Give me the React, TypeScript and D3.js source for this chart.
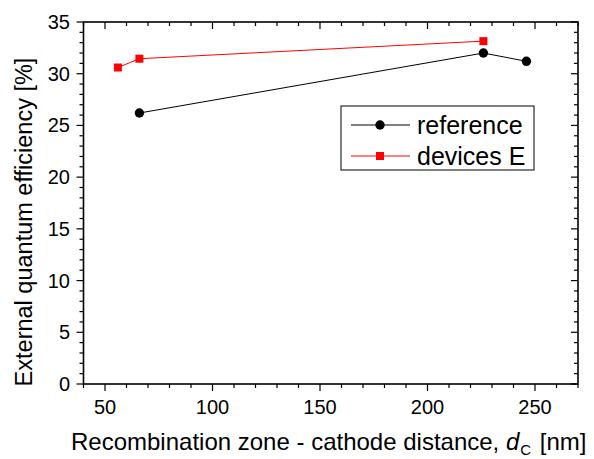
import React from "react";
import * as d3 from "d3";

const refX = [66, 226, 246];
const refY = [26.2, 32.0, 31.2];
const devX = [56, 66, 226];
const devY = [30.6, 31.45, 33.15];
const xTicks = [50, 100, 150, 200, 250];
const yTicks = [0, 5, 10, 15, 20, 25, 30, 35];
const legendLabels = ["reference", "devices E"];

const W = 594, H = 459;
const L = 83.5, R = 578, T = 22, B = 384;
const FONT = "Liberation Sans, Arial, sans-serif";

export default function App() {
  const x = d3.scaleLinear().domain([40, 270]).range([L, R]);
  const y = d3.scaleLinear().domain([0, 35]).range([B, T]);
  const line = d3.line<[number, number]>().x(d => x(d[0])).y(d => y(d[1]));
  const refPts = refX.map((v, i) => [v, refY[i]] as [number, number]);
  const devPts = devX.map((v, i) => [v, devY[i]] as [number, number]);
  const xMinor = d3.range(40, 271, 10);
  const yMinor = d3.range(0, 35.01, 1);

  return (
    <svg width={W} height={H} style={{ position: "absolute", left: 0, top: 0, background: "#fff" }} fontFamily={FONT}>
      {xMinor.map(v => {
        const major = v % 50 === 0;
        const len = major ? 7 : 4;
        return (
          <g key={"xt" + v} stroke="#000" strokeWidth={1.2}>
            <line x1={x(v)} x2={x(v)} y1={B} y2={B + len} />
            <line x1={x(v)} x2={x(v)} y1={T} y2={T + len} />
          </g>
        );
      })}
      {yMinor.map(v => {
        const major = v % 5 === 0;
        const len = major ? 7 : 4;
        return (
          <g key={"yt" + v} stroke="#000" strokeWidth={1.2}>
            <line x1={L} x2={L - len} y1={y(v)} y2={y(v)} />
            <line x1={R} x2={R - len} y1={y(v)} y2={y(v)} />
          </g>
        );
      })}
      <rect x={L} y={T} width={R - L} height={B - T} fill="none" stroke="#000" strokeWidth={1.6} />
      {xTicks.map(v => (
        <text key={"xl" + v} x={x(v)} y={414} fontSize={20} textAnchor="middle">{v}</text>
      ))}
      {yTicks.map(v => (
        <text key={"yl" + v} x={70} y={y(v) + 7} fontSize={20} textAnchor="end">{v}</text>
      ))}
      <path d={line(refPts) || ""} fill="none" stroke="#000" strokeWidth={1} />
      <path d={line(devPts) || ""} fill="none" stroke="#ff0000" strokeWidth={1} />
      {refPts.map((p, i) => (
        <circle key={"rc" + i} cx={x(p[0])} cy={y(p[1])} r={4.7} fill="#000" />
      ))}
      {devPts.map((p, i) => (
        <rect key={"dr" + i} x={x(p[0]) - 4} y={y(p[1]) - 4} width={8} height={8} fill="#ff0000" />
      ))}
      <rect x={341} y={106} width={193} height={64} fill="#fff" stroke="#000" strokeWidth={1} />
      <line x1={351} x2={410} y1={125} y2={125} stroke="#000" strokeWidth={1} />
      <circle cx={380} cy={125} r={4.7} fill="#000" />
      <text x={417} y={133.5} fontSize={25}>{legendLabels[0]}</text>
      <line x1={351} x2={410} y1={156} y2={156} stroke="#ff0000" strokeWidth={1} />
      <rect x={376} y={152} width={8} height={8} fill="#ff0000" />
      <text x={417} y={165} fontSize={25}>{legendLabels[1]}</text>
      <text x={71} y={450} fontSize={24}>
        Recombination zone - cathode distance, <tspan fontStyle="italic">d</tspan>
        <tspan fontSize={15} dy={5} dx={1}>C</tspan>
        <tspan dy={-5} dx={2}> [nm]</tspan>
      </text>
      <text transform={`translate(32, 222) rotate(-90)`} fontSize={23.5} textAnchor="middle">
        External quantum efficiency [%]
      </text>
    </svg>
  );
}
